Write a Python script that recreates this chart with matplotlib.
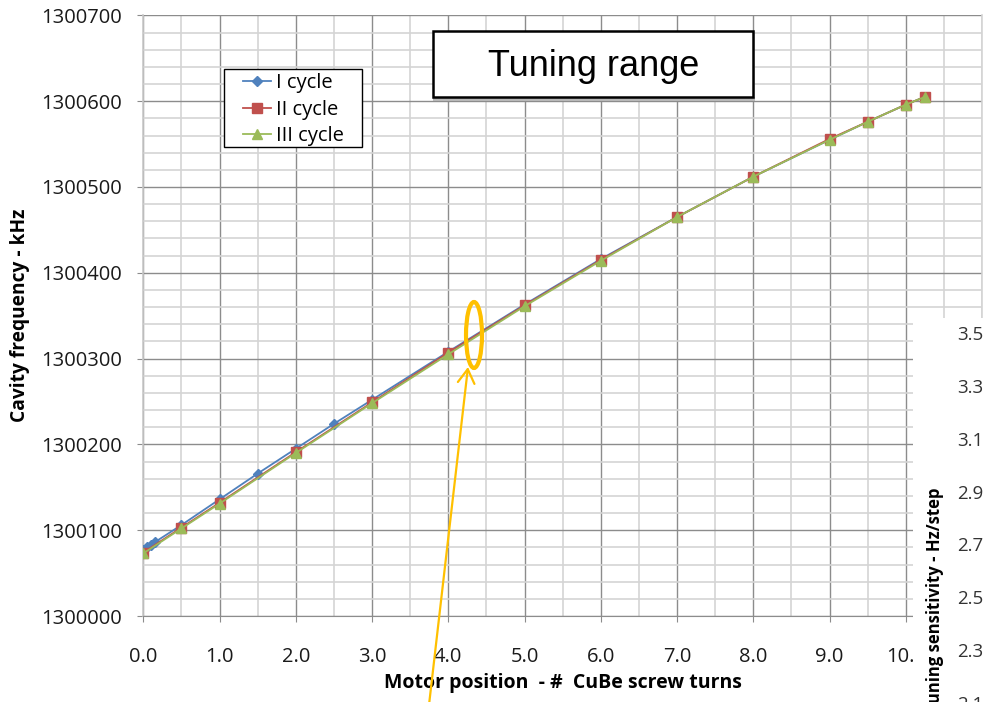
import matplotlib
matplotlib.use("Agg")
import matplotlib.pyplot as plt
from matplotlib.ticker import MultipleLocator, FuncFormatter, FixedLocator
from matplotlib.patches import Rectangle, Ellipse, FancyArrowPatch

plt.rcParams['font.family'] = ['Open Sans', 'DejaVu Sans']

# ---------------- data ----------------
x_cycle1 = [0.0, 0.05, 0.1, 0.15, 0.5, 1.0, 1.5, 2.0, 2.5, 3.0, 4.0, 5.0, 6.0, 7.0, 8.0, 9.0, 9.5, 10.0, 10.25]
f_cycle1 = [1300077, 1300080, 1300083, 1300086, 1300106, 1300136, 1300166, 1300195, 1300224, 1300252,
            1300308, 1300363, 1300416, 1300465, 1300512, 1300555, 1300576, 1300596, 1300605]
x_cycle23 = [0.0, 0.5, 1.0, 2.0, 3.0, 4.0, 5.0, 6.0, 7.0, 8.0, 9.0, 9.5, 10.0, 10.25]
f_cycle2 = [1300074, 1300103, 1300132, 1300191, 1300249, 1300307, 1300362, 1300415, 1300465,
            1300512, 1300556, 1300576, 1300596, 1300605]
f_cycle3 = [1300073, 1300102, 1300131, 1300190, 1300248, 1300305, 1300361, 1300414, 1300465,
            1300512, 1300555, 1300576, 1300596, 1300605]
series_labels = ['I cycle', 'II cycle', 'III cycle']
x_ticks = [0, 1, 2, 3, 4, 5, 6, 7, 8, 9, 10]
y_ticks = [1300000, 1300100, 1300200, 1300300, 1300400, 1300500, 1300600, 1300700]
sens_ticks = [2.1, 2.3, 2.5, 2.7, 2.9, 3.1, 3.3, 3.5]

W, H = 983, 702
def fx(px):
    return px / W
def fy(py):
    return 1 - py / H

fig = plt.figure(figsize=(W / 100, H / 100), dpi=100)
fig.patch.set_facecolor('white')

ax = fig.add_axes([fx(143.3), fy(616), (982 - 143.3) / W, (616 - 15.4) / H])
ax.set_xlim(0, 11)
ax.set_ylim(1300000, 1300700)
ax.xaxis.set_major_locator(FixedLocator(x_ticks))
ax.yaxis.set_major_locator(FixedLocator(y_ticks))
ax.xaxis.set_minor_locator(MultipleLocator(0.5))
ax.yaxis.set_minor_locator(MultipleLocator(20))
ax.xaxis.set_major_formatter(FuncFormatter(lambda v, p: f"{v:.1f}"))
ax.yaxis.set_major_formatter(FuncFormatter(lambda v, p: f"{int(round(v))}"))

ax.grid(which='minor', color='#d4d4d4', lw=1.2, zorder=0)
ax.grid(which='major', color='#8c8c8c', lw=1.0, zorder=0)
ax.set_axisbelow(True)
ax.spines['top'].set_visible(False)
ax.spines['right'].set_color('#d4d4d4')
ax.spines['right'].set_linewidth(1.2)
ax.spines['bottom'].set_color('#8c8c8c')
ax.spines['left'].set_color('#c8c8c8')
ax.spines['left'].set_linewidth(1.2)
ax.tick_params(which='major', length=4.5, color='#8c8c8c', labelsize=14.5, labelcolor='#1a1a1a')
ax.tick_params(axis='x', pad=18)
ax.tick_params(axis='y', pad=11)
ax.tick_params(which='minor', length=0)

ax.plot(x_cycle1, f_cycle1, color='#4F81BD', lw=1.3, marker='D', ms=5.5,
        label=series_labels[0], zorder=3)
ax.plot(x_cycle23, f_cycle2, color='#C0504D', lw=1.3, marker='s', ms=6.5,
        label=series_labels[1], zorder=4)
ax.plot(x_cycle23, f_cycle3, color='#9BBB59', lw=1.3, marker='^', ms=7.5,
        label=series_labels[2], zorder=5)

ax.set_xlabel('Motor position  - #  CuBe screw turns', fontsize=14, fontweight='bold')
ax.xaxis.set_label_coords(0.5, (616 - 683) / (616 - 15.4))
ax.xaxis.label.set_va('center')
ax.set_ylabel('Cavity frequency - kHz', fontsize=13.8, fontweight='bold')
ax.yaxis.set_label_coords((20 - 143.3) / (982 - 143.3), 0.5)
ax.yaxis.label.set_va('center')

# legend: frame drawn as a separate rectangle, entries placed inside
legbox = Rectangle((fx(224), fy(147)), fx(362) - fx(224), fy(69) - fy(147),
                   transform=fig.transFigure, facecolor='white', edgecolor='black',
                   lw=1.0, zorder=6)
ax.add_patch(legbox)
leg = ax.legend(loc='upper left', bbox_to_anchor=(fx(243), fy(73)),
                bbox_transform=fig.transFigure, frameon=False, fontsize=14.5,
                handlelength=1.4, handletextpad=0.25, labelspacing=0.33,
                borderpad=0, borderaxespad=0)
leg.set_zorder(7)

# title box "Tuning range"
shadow = Rectangle((fx(433), fy(101)), fx(755) - fx(433), fy(97) - fy(101),
                   transform=fig.transFigure, facecolor='#b8b8b8', edgecolor='none',
                   hatch='....', zorder=8)
fig.patches.append(shadow)
tbox = Rectangle((fx(433), fy(97)), fx(753) - fx(433), fy(31) - fy(97),
                 transform=fig.transFigure, facecolor='white', edgecolor='black',
                 lw=1.8, zorder=9)
fig.patches.append(tbox)
fig.text(fx(594), fy(66), 'Tuning range', fontsize=26, family='Liberation Sans',
         ha='center', va='center', zorder=10)

# orange highlight
ell = Ellipse((fx(474), fy(335)), 16 / W, 66 / H, transform=fig.transFigure,
              facecolor='none', edgecolor='#FFC000', lw=3, zorder=11)
fig.patches.append(ell)
arr = FancyArrowPatch((fx(429), fy(705)), (fx(468), fy(367)), transform=fig.transFigure,
                      arrowstyle='->,head_length=0.5,head_width=0.3', mutation_scale=20,
                      color='#FFC000', lw=1.6, shrinkA=0, shrinkB=0, zorder=11)
fig.patches.append(arr)

# overlay panel with secondary axis of another chart
panel = Rectangle((fx(913), fy(702)), fx(983) - fx(913), fy(318) - fy(702),
                  transform=fig.transFigure, facecolor='white', edgecolor='none', zorder=12)
fig.patches.append(panel)
ax2 = fig.add_axes([fx(913), fy(703), (956 - 913) / W, (703 - 333) / H])
ax2.set_zorder(13)
ax2.set_frame_on(False)
ax2.patch.set_visible(False)
ax2.set_ylim(2.1, 3.5)
ax2.set_xticks([])
ax2.yaxis.set_major_locator(FixedLocator(sens_ticks))
ax2.yaxis.set_major_formatter(FuncFormatter(lambda v, p: f"{v:.1f}"))
ax2.yaxis.tick_right()
ax2.tick_params(axis='y', length=0, pad=1, labelsize=13.5, labelcolor='#333333')
fig.text(fx(935), fy(487), 'Tuning sensitivity - Hz/step', rotation=90,
         rotation_mode='anchor', ha='right', va='center', fontsize=12,
         fontweight='bold', zorder=14)

fig.savefig('out.png', dpi=100)
